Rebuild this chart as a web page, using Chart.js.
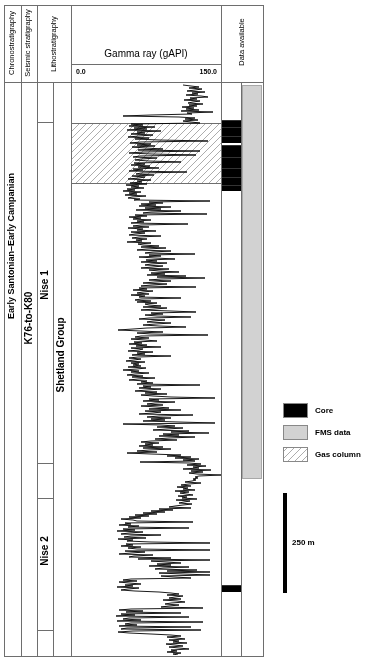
<!DOCTYPE html>
<html>
<head>
<meta charset="utf-8">
<script src="https://cdn.jsdelivr.net/npm/chart.js@4/dist/chart.umd.min.js"></script>
<style>
	body { margin: 0; background: #fff; }
	canvas { display: block; }
</style>
</head>
<body>
<canvas id="log-canvas" width="369" height="662"></canvas>
<script>
// gamma ray readings (gAPI), one every 2.5 m from 5 m down to 1430 m
const gammaRay = [
	112, 120, 128, 118, 131, 124, 116, 134, 121, 127, 115, 130, 137, 119, 126, 113, 129, 122, 117, 132,
	118, 126, 111, 123, 115, 128, 110, 142, 116, 121, 80, 52, 108, 124, 114, 127, 112, 120, 129, 60,
	72, 58, 84, 63, 76, 56, 90, 66, 74, 60, 82, 68, 57, 78, 64, 88, 137, 70, 59, 80,
	66, 84, 61, 75, 92, 67, 129, 73, 58, 81, 125, 69, 62, 86, 70, 64, 78, 110, 63, 74,
	60, 79, 67, 88, 62, 72, 58, 116, 70, 65, 83, 61, 74, 68, 57, 80, 66, 71, 59, 76,
	55, 68, 60, 73, 56, 64, 52, 70, 58, 66, 54, 75, 61, 57, 69, 63, 139, 78, 92, 70,
	85, 68, 100, 74, 90, 65, 110, 80, 72, 136, 64, 76, 58, 70, 62, 80, 66, 73, 60, 117,
	70, 62, 78, 57, 72, 66, 85, 60, 74, 64, 58, 90, 68, 61, 76, 65, 71, 56, 80, 67,
	72, 88, 70, 95, 76, 66, 100, 82, 74, 124, 78, 90, 68, 84, 104, 75, 86, 70, 96, 80,
	74, 92, 82, 70, 98, 78, 88, 108, 80, 94, 76, 115, 86, 134, 90, 78, 100, 84, 72, 96,
	80, 70, 125, 68, 76, 62, 82, 72, 66, 78, 60, 74, 68, 110, 70, 64, 80, 66, 86, 74,
	78, 90, 72, 96, 84, 70, 100, 125, 80, 92, 74, 86, 120, 78, 68, 94, 82, 76, 100, 85,
	72, 88, 115, 76, 62, 47, 70, 92, 66, 80, 137, 70, 64, 78, 60, 74, 86, 63, 71, 58,
	76, 65, 90, 60, 72, 68, 57, 82, 66, 74, 61, 100, 67, 58, 70, 63, 55, 74, 60, 68,
	62, 70, 57, 75, 66, 52, 68, 60, 78, 64, 56, 72, 61, 84, 67, 58, 76, 70, 82, 66,
	129, 72, 80, 68, 90, 76, 64, 86, 74, 96, 70, 82, 100, 144, 78, 88, 72, 104, 84, 76,
	92, 70, 86, 98, 78, 110, 74, 90, 82, 68, 122, 88, 76, 100, 80, 94, 72, 108, 144, 52,
	90, 104, 86, 112, 96, 82, 118, 100, 138, 92, 108, 88, 124, 98, 84, 106, 80, 70, 88, 74,
	82, 68, 92, 72, 100, 78, 66, 86, 56, 80, 110, 96, 120, 104, 128, 112, 124, 69, 118, 130,
	116, 135, 122, 128, 112, 140, 120, 132, 118, 126, 150, 128, 124, 127, 122, 125, 121, 114, 130, 118,
	110, 120, 106, 117, 112, 124, 104, 118, 109, 115, 122, 107, 116, 111, 126, 105, 119, 113, 108, 121,
	112, 104, 98, 120, 88, 102, 80, 94, 72, 86, 64, 78, 58, 70, 50, 62, 66, 122, 54, 60,
	48, 68, 57, 118, 52, 64, 46, 72, 58, 50, 90, 60, 53, 75, 47, 62, 56, 80, 139, 55,
	62, 50, 70, 57, 66, 139, 54, 74, 60, 48, 82, 63, 58, 100, 67, 139, 80, 95, 110, 86,
	100, 78, 118, 92, 84, 126, 96, 139, 88, 112, 139, 90, 104, 120, 60, 52, 66, 48, 58, 70,
	54, 62, 46, 68, 57, 50, 64, 88, 100, 108, 96, 112, 104, 98, 110, 92, 106, 114, 100, 94,
	108, 98, 90, 132, 60, 48, 72, 55, 110, 50, 64, 45, 118, 58, 52, 70, 46, 132, 60, 54,
	66, 48, 120, 56, 50, 130, 62, 47, 58, 80, 100, 110, 96, 106, 114, 98, 108, 102, 116, 95,
	104, 112, 98, 108, 118, 100, 106, 96, 110, 102, 107
];
const firstDepth = 5;
const depthStep = 2.5;
const maxDepth = 1430;

// intervals in metres below the top of the section
const coreTops = [92.5, 110, 132.5, 155, 185, 212.5, 235, 255, 1255];
const coreBases = [110, 132.5, 150, 185, 212.5, 235, 255, 270, 1272.5];
const fmsTop = 5;
const fmsBase = 987.5;
const gasTop = 100;
const gasBase = 250;
const niseBoundaries = [97.5, 950, 1037.5, 1367.5];
const scaleBarTop = 1025;
const scaleBarLength = 250;

const grMin = 0;
const grMax = 150;
const grTickLabels = ["0.0", "150.0"];
const headerLabels = ["Chronostratigraphy", "Seismic stratigraphy", "Lithostratigraphy", "Data available"];
const legendLabels = ["Core", "FMS data", "Gas column"];

const lineColor = "#6e6e6e";
const fontName = "'Liberation Sans', Arial, sans-serif";

function hatchPattern(ctx) {
	const c = document.createElement("canvas");
	c.width = 7;
	c.height = 7;
	const h = c.getContext("2d");
	h.strokeStyle = "#8a8a8a";
	h.lineWidth = 0.7;
	h.beginPath();
	h.moveTo(0, 7);
	h.lineTo(7, 0);
	h.moveTo(-1, 1);
	h.lineTo(1, -1);
	h.moveTo(6, 8);
	h.lineTo(8, 6);
	h.stroke();
	return ctx.createPattern(c, "repeat");
}

function vText(ctx, text, x, y, font) {
	ctx.save();
	ctx.translate(x, y);
	ctx.rotate(-Math.PI / 2);
	ctx.font = font;
	ctx.textAlign = "center";
	ctx.textBaseline = "middle";
	ctx.fillText(text, 0, 0);
	ctx.restore();
}

function hLine(ctx, x1, x2, y) {
	ctx.beginPath();
	ctx.moveTo(x1, Math.round(y) + 0.5);
	ctx.lineTo(x2, Math.round(y) + 0.5);
	ctx.stroke();
}

function vLine(ctx, x, y1, y2) {
	ctx.beginPath();
	ctx.moveTo(x + 0.5, y1);
	ctx.lineTo(x + 0.5, y2);
	ctx.stroke();
}

const logPanel = {
	id: "logPanel",
	beforeDatasetsDraw(chart) {
		const ctx = chart.ctx;
		const area = chart.chartArea;
		const yScale = chart.scales.y;
		ctx.save();

		// gas column
		const g1 = yScale.getPixelForValue(gasTop);
		const g2 = yScale.getPixelForValue(gasBase);
		ctx.fillStyle = hatchPattern(ctx);
		ctx.fillRect(area.left, g1, area.right - area.left, g2 - g1);
		ctx.strokeStyle = lineColor;
		ctx.lineWidth = 1;
		hLine(ctx, area.left, area.right, g1);
		hLine(ctx, area.left, area.right, g2);

		// FMS data
		const f1 = yScale.getPixelForValue(fmsTop);
		const f2 = yScale.getPixelForValue(fmsBase);
		ctx.fillStyle = "#d2d2d2";
		ctx.fillRect(242, f1, 20, f2 - f1);
		ctx.strokeStyle = "#a8a8a8";
		ctx.strokeRect(242.5, Math.round(f1) + 0.5, 19, Math.round(f2 - f1));

		// cores
		for (let i = 0; i < coreTops.length; i++) {
			const c1 = yScale.getPixelForValue(coreTops[i]);
			const c2 = yScale.getPixelForValue(coreBases[i]);
			ctx.fillStyle = "#000";
			ctx.fillRect(221, c1, 20, c2 - c1);
			ctx.strokeStyle = "#555";
			ctx.lineWidth = 0.6;
			hLine(ctx, 221, 241, c1);
		}
		ctx.restore();
	},
	afterDraw(chart) {
		const ctx = chart.ctx;
		const area = chart.chartArea;
		const xScale = chart.scales.x;
		const yScale = chart.scales.y;
		ctx.save();
		ctx.strokeStyle = lineColor;
		ctx.lineWidth = 1;

		// frame
		const top = 5;
		const bottom = 656;
		[4, 21, 37, area.left, area.right, 263].forEach(function (x) {
			vLine(ctx, Math.round(x), top, bottom + 1);
		});
		vLine(ctx, 53, 82, bottom);
		vLine(ctx, 241, 82, bottom);
		hLine(ctx, 4, 264, top);
		hLine(ctx, 4, 264, 82);
		hLine(ctx, 4, 264, bottom);
		hLine(ctx, area.left, area.right, 64);
		niseBoundaries.forEach(function (d) {
			hLine(ctx, 37, 53, yScale.getPixelForValue(d));
		});

		// header
		ctx.fillStyle = "#000";
		const small = "7.5px " + fontName;
		vText(ctx, headerLabels[0], 12, 43, small);
		vText(ctx, headerLabels[1], 28, 43, small);
		vText(ctx, headerLabels[2], 54, 44, small);
		vText(ctx, headerLabels[3], 242, 42, small);
		ctx.font = "10px " + fontName;
		ctx.textAlign = "center";
		ctx.textBaseline = "middle";
		ctx.fillText("Gamma ray (gAPI)", (area.left + area.right) / 2, 54);
		ctx.font = "bold 7px " + fontName;
		ctx.textAlign = "left";
		ctx.fillText(grTickLabels[0], xScale.getPixelForValue(grMin) + 5, 72);
		ctx.textAlign = "right";
		ctx.fillText(grTickLabels[1], xScale.getPixelForValue(grMax) - 4, 72);

		// stratigraphy
		const bold = "bold 10px " + fontName;
		vText(ctx, "Early Santonian\u2013Early Campanian", 12, 246, "bold 9px " + fontName);
		vText(ctx, "K76-to-K80", 29, 318, bold);
		vText(ctx, "Nise 1", 45, 285, bold);
		vText(ctx, "Shetland Group", 61, 355, bold);
		vText(ctx, "Nise 2", 45, 551, bold);

		// legend
		const boxY = [403, 425, 447];
		const pattern = hatchPattern(ctx);
		const fills = ["#000", "#d2d2d2", pattern];
		ctx.font = "bold 8px " + fontName;
		ctx.textAlign = "left";
		ctx.textBaseline = "middle";
		for (let i = 0; i < legendLabels.length; i++) {
			ctx.fillStyle = fills[i];
			ctx.fillRect(283, boxY[i], 25, 15);
			ctx.strokeStyle = "#888";
			ctx.strokeRect(283.5, boxY[i] + 0.5, 24, 14);
			ctx.fillStyle = "#000";
			ctx.fillText(legendLabels[i], 315, boxY[i] + 8);
		}

		// scale bar
		const s1 = yScale.getPixelForValue(scaleBarTop);
		const s2 = yScale.getPixelForValue(scaleBarTop + scaleBarLength);
		ctx.fillStyle = "#000";
		ctx.fillRect(283, s1, 4, s2 - s1);
		ctx.fillText(scaleBarLength + " m", 292, (s1 + s2) / 2);
		ctx.restore();
	},
};

const points = gammaRay.map(function (v, i) {
	return { x: v, y: firstDepth + i * depthStep };
});

new Chart("log-canvas", {
	type: "scatter",
	data: {
		datasets: [
			{
				data: points,
				showLine: true,
				borderColor: "#000",
				borderWidth: 0.9,
				pointRadius: 0,
				tension: 0,
			},
		],
	},
	options: {
		responsive: false,
		animation: false,
		devicePixelRatio: 1,
		layout: {
			padding: { left: 71, right: 148, top: 83, bottom: 7 },
		},
		scales: {
			x: { display: false, min: grMin, max: grMax },
			y: { display: false, min: 0, max: maxDepth, reverse: true },
		},
		plugins: {
			legend: { display: false },
			tooltip: { enabled: false },
		},
	},
	plugins: [logPanel],
});
</script>
</body>
</html>
